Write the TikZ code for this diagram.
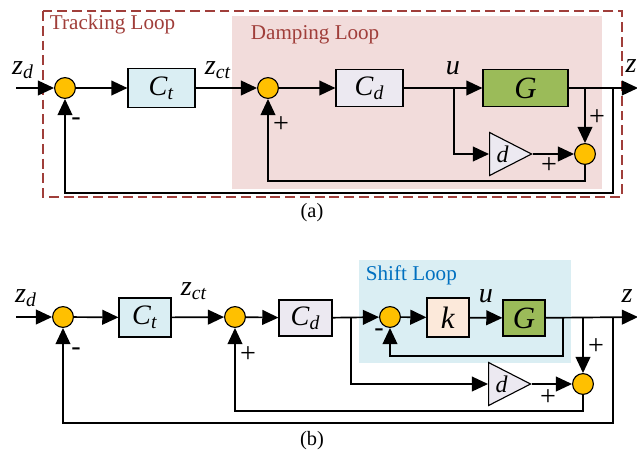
\documentclass[tikz,border=0pt]{standalone}
\usepackage{fontspec}
\setmainfont{Liberation Serif}
\usetikzlibrary{arrows.meta,shapes.geometric}
\definecolor{sumorange}{RGB}{255,192,0}
\definecolor{ctblue}{RGB}{218,238,243}
\definecolor{cdgray}{RGB}{236,233,241}
\definecolor{ggreen}{RGB}{155,187,89}
\definecolor{kpeach}{RGB}{252,233,218}
\definecolor{dampink}{RGB}{242,220,219}
\definecolor{shiftblue}{RGB}{218,238,243}
\definecolor{trackred}{RGB}{160,62,58}
\definecolor{shifttext}{RGB}{0,112,192}
\newcommand{\sig}[2]{\textit{#1}\textsubscript{\textit{#2}}}

\begin{document}
\begin{tikzpicture}[x=0.025cm, y=-0.025cm, font=\fontsize{20}{20}\selectfont]
    \tikzset{sum node/.style={circle,draw,fill=sumorange,line width=0.8pt,inner sep=0pt,minimum size=0.52cm}}
    \tikzset{block/.style 2 args={draw,line width=0.8pt,inner sep=0pt,minimum width=#1*0.025cm,minimum height=#2*0.025cm}}
    \tikzset{big letter/.style={font=\fontsize{22}{22}\selectfont}}
    \tikzset{gain node/.style={isosceles triangle,isosceles triangle stretches,draw,fill=cdgray,line width=0.8pt,inner sep=0pt,minimum width=1.075cm,minimum height=1.05cm,anchor=west,font=\fontsize{17}{17}\selectfont\itshape}}
    \tikzset{signal/.style={-{Triangle[length=11.5pt,width=10.5pt]},line width=1.2pt}}
    \tikzset{sign/.style={font=\fontsize{20}{20}\selectfont}}
    \tikzset{loop title/.style={anchor=west,font=\fontsize{15}{15}\selectfont}}
    \tikzset{caption/.style={font=\fontsize{14.5}{14.5}\selectfont}}
    \useasboundingbox (0,0) rectangle (637,456);

    % (a) - loop frames
    \fill[dampink] (232,16) rectangle (602,189);
    \draw[trackred, line width=0.9pt, dash pattern=on 7pt off 3.5pt] (43,11) rectangle (622,197);
    \node[loop title, text=trackred] (a_track) at (45,24) {Tracking Loop};
    \node[loop title, text=trackred] (a_damp) at (246,35) {Damping Loop};

    % (a) - forward path
    \coordinate (a_in) at (16,88);
    \node[sum node] (a_s1) at (65,88) {};
    \node[block={67}{39}, fill=ctblue] (a_ct) at (161.5,88) {\sig{C}{t}};
    \node[sum node] (a_s2) at (268,88) {};
    \node[block={67}{37}, fill=cdgray] (a_cd) at (369.5,88) {\sig{C}{d}};
    \coordinate (a_u) at (454,88);
    \node[block={85}{37}, fill=ggreen, big letter] (a_g) at (525.5,88) {\textit{G}};
    \coordinate (a_b1) at (585,88);
    \coordinate (a_b2) at (613,88);
    \coordinate (a_out) at (638,88);
    \node[gain node] (a_d) at (489,154) {\,d};
    \node[sum node] (a_s3) at (585,154) {};

    \draw[signal] (a_in) -- (a_s1);
    \draw[signal] (a_s1) -- (a_ct);
    \draw[signal] (a_ct) -- (a_s2);
    \draw[signal] (a_s2) -- (a_cd);
    \draw[signal] (a_cd) -- (a_g);
    \draw[signal] (a_g) -- (a_out);
    \draw[signal] (a_u) |- (a_d);
    \draw[signal] (a_d) -- (a_s3);
    \draw[signal] (a_b1) -- (a_s3);
    % (a) - feedback paths
    \draw[signal] (a_s3) -- (a_s3 |- 0,181) -| (a_s2);
    \draw[signal] (a_b2) -- (a_b2 |- 0,193) -| (a_s1);

    % (a) - labels
    \node (a_zd) at (23,70) {\sig{z}{d}};
    \node (a_zct) at (218,70) {\sig{z}{ct}};
    \node (a_lu) at (453,68) {\textit{u}};
    \node (a_z) at (631,66) {\textit{z}};
    \node[sign] (a_m1) at (76,122) {-};
    \node[sign] (a_p2) at (281,125) {+};
    \node[sign] (a_p3) at (597,118) {+};
    \node[sign] (a_p4) at (549,166) {+};
    \node[caption] (cap_a) at (312,213) {(a)};

    % (b) - loop frame
    \fill[shiftblue] (359,260) rectangle (571,363);
    \node[loop title, text=shifttext] (b_shift) at (361,275) {Shift Loop};

    % (b) - forward path
    \coordinate (b_in) at (16,317);
    \node[sum node] (b_s1) at (63,317) {};
    \node[block={52}{39}, fill=ctblue] (b_ct) at (145,317.5) {\sig{C}{t}};
    \node[sum node] (b_s2) at (235,317) {};
    \node[block={53}{36}, fill=cdgray] (b_cd) at (305.5,318) {\sig{C}{d}};
    \coordinate (b_u) at (351,317);
    \node[sum node] (b_s4) at (390,317) {};
    \node[block={42}{39}, fill=kpeach, big letter] (b_k) at (448,317.5) {\textit{k}};
    \node[block={42}{36}, fill=ggreen, big letter] (b_g) at (524,318) {\textit{G}};
    \coordinate (b_b0) at (563,317);
    \coordinate (b_b1) at (583,317);
    \coordinate (b_b2) at (613,317);
    \coordinate (b_out) at (638,317);
    \node[gain node] (b_d) at (488,384) {\,d};
    \node[sum node] (b_s3) at (583,384) {};

    \draw[signal] (b_in) -- (b_s1);
    \draw[signal] (b_s1) -- (b_ct);
    \draw[signal] (b_ct) -- (b_s2);
    \draw[signal] (b_s2) -- (b_cd);
    \draw[signal] (b_cd) -- (b_s4);
    \draw[signal] (b_s4) -- (b_k);
    \draw[signal] (b_k) -- (b_g);
    \draw[signal] (b_g) -- (b_out);
    \draw[signal] (b_u) |- (b_d);
    \draw[signal] (b_d) -- (b_s3);
    \draw[signal] (b_b1) -- (b_s3);
    % (b) - feedback paths
    \draw[signal] (b_b0) -- (b_b0 |- 0,356) -| (b_s4);
    \draw[signal] (b_s3) -- (b_s3 |- 0,411) -| (b_s2);
    \draw[signal] (b_b2) -- (b_b2 |- 0,423) -| (b_s1);

    % (b) - labels
    \node (b_zd) at (26,298) {\sig{z}{d}};
    \node (b_zct) at (194,291) {\sig{z}{ct}};
    \node (b_lu) at (486,296) {\textit{u}};
    \node (b_z) at (627,296) {\textit{z}};
    \node[sign] (b_m1) at (76,352) {-};
    \node[sign] (b_p2) at (248,355) {+};
    \node[sign] (b_m4) at (379,333) {-};
    \node[sign] (b_p3) at (596,347) {+};
    \node[sign] (b_p4) at (548,398) {+};
    \node[caption] (cap_b) at (312,441) {(b)};
\end{tikzpicture}
\end{document}
